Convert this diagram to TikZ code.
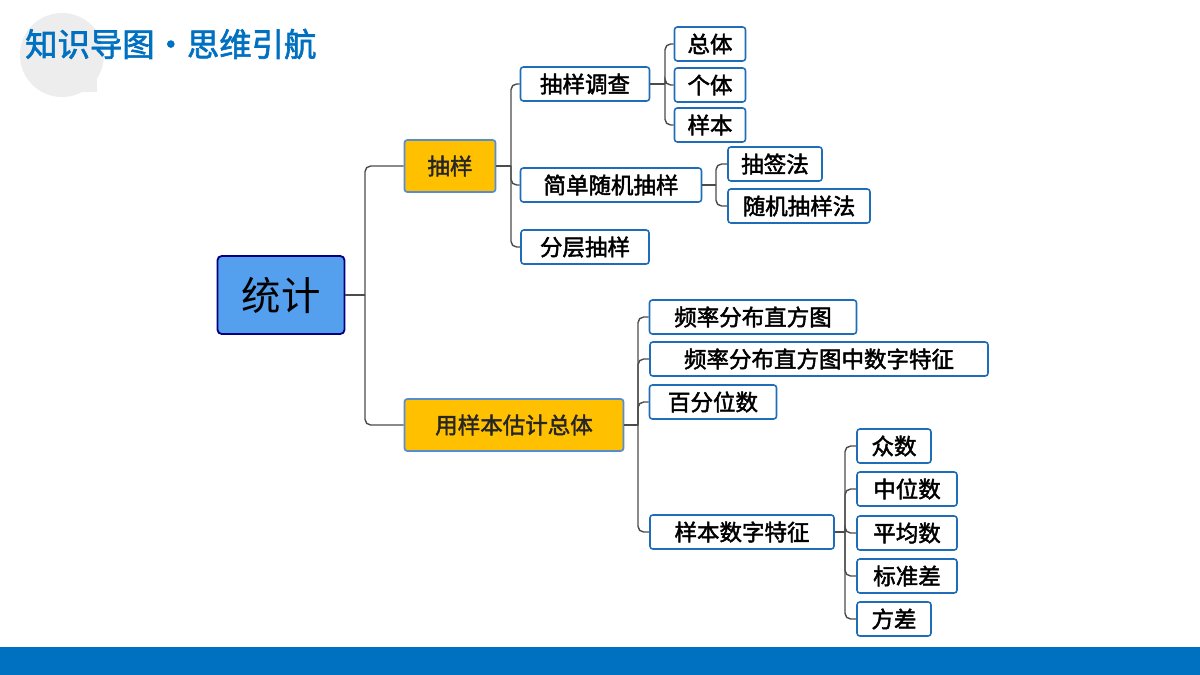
\documentclass[tikz,border=0pt]{standalone}
\usepackage{fontspec}
\newfontfamily\cjk{Noto Sans CJK SC}
\newfontfamily\cjkb{Noto Sans CJK SC}[FakeBold=2]
\definecolor{gold}{HTML}{FFC000}
\definecolor{bar}{HTML}{0070C0}
\definecolor{edge}{HTML}{1F6DB8}
\definecolor{rootf}{HTML}{55A0EE}
\begin{document}
\begin{tikzpicture}[x=0.025cm,y=-0.025cm,
  leaf/.style={draw=edge,line width=1.1pt,rounded corners=2pt,fill=white,font=\cjkb\fontsize{16}{16}\selectfont,text=black,inner sep=0pt,minimum height=0.85cm},
  mid/.style={draw=cyan!50!blue!70,line width=1.2pt,rounded corners=2pt,fill=gold,font=\cjkb\fontsize{16}{16}\selectfont,text=black!85,inner sep=0pt,minimum height=1.3cm},
  conn/.style={draw=black!70,line width=1pt,rounded corners=4pt}]
\useasboundingbox (0,0) rectangle (1200,675);
\fill[white] (0,0) rectangle (1200,675);
\fill[black!7] (62,55) circle (42);
\fill[black!7] (62,55) rectangle (97,92);
\node[font=\cjkb\fontsize{23}{23}\selectfont,text=bar,anchor=west,inner sep=0pt] (title) at (25,44) {知识导图·思维引航};
\fill[bar] (0,647) rectangle (1200,675);

\node[draw=blue!50!black,line width=1.3pt,rounded corners=3pt,fill=rootf,minimum width=127*0.025cm,minimum height=78*0.025cm,font=\cjk\fontsize{28}{28}\selectfont] (root) at (281,295) {统计};
\node[mid,minimum width=91*0.025cm] (a) at (450,166) {抽样};
\node[mid,minimum width=219*0.025cm] (b) at (514,425) {用样本估计总体};

\node[leaf,minimum width=129*0.025cm] (a1) at (585,84) {抽样调查};
\node[leaf,minimum width=181*0.025cm] (a2) at (611,185) {简单随机抽样};
\node[leaf,minimum width=128*0.025cm] (a3) at (585,247) {分层抽样};
\node[leaf,minimum width=71*0.025cm] (a11) at (710,44) {总体};
\node[leaf,minimum width=71*0.025cm] (a12) at (710,85) {个体};
\node[leaf,minimum width=71*0.025cm] (a13) at (710,125) {样本};
\node[leaf,minimum width=94*0.025cm] (a21) at (775,164) {抽签法};
\node[leaf,minimum width=142*0.025cm] (a22) at (799,206) {随机抽样法};

\node[leaf,minimum width=207*0.025cm] (b1) at (753,317) {频率分布直方图};
\node[leaf,minimum width=338*0.025cm] (b2) at (819,359) {频率分布直方图中数字特征};
\node[leaf,minimum width=127*0.025cm] (b3) at (713,402) {百分位数};
\node[leaf,minimum width=184*0.025cm] (b4) at (742,532) {样本数字特征};
\node[leaf,minimum width=74*0.025cm] (b41) at (894,446) {众数};
\node[leaf,minimum width=100*0.025cm] (b42) at (907,489) {中位数};
\node[leaf,minimum width=100*0.025cm] (b43) at (907,533) {平均数};
\node[leaf,minimum width=100*0.025cm] (b44) at (907,576) {标准差};
\node[leaf,minimum width=74*0.025cm] (b45) at (894,619) {方差};

\draw[conn] (root.east) -- (365,295);
\foreach \c in {a,b} \draw[conn] (365,295) |- (\c.west);
\draw[conn] (a.east) -- (511,166);
\foreach \c in {a1,a2,a3} \draw[conn] (511,166) |- (\c.west);
\draw[conn] (a1.east) -- (665,84);
\foreach \c in {a11,a12,a13} \draw[conn] (665,84) |- (\c.west);
\draw[conn] (a2.east) -- (716,185);
\foreach \c in {a21,a22} \draw[conn] (716,185) |- (\c.west);
\draw[conn] (b.east) -- (638,425);
\foreach \c in {b1,b2,b3,b4} \draw[conn] (638,425) |- (\c.west);
\draw[conn] (b4.east) -- (845,532);
\foreach \c in {b41,b42,b43,b44,b45} \draw[conn] (845,532) |- (\c.west);
\end{tikzpicture}
\end{document}
